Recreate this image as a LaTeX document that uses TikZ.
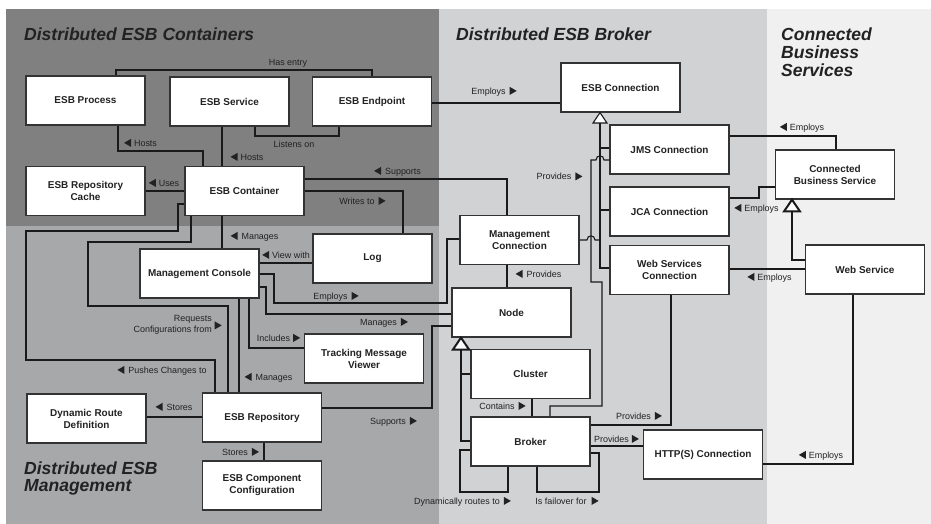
\documentclass[tikz,border=0pt]{standalone}
\usepackage{fontspec}
\setmainfont{Liberation Sans}
\definecolor{zoneCont}{HTML}{808080}
\definecolor{zoneMgmt}{HTML}{A7A8AA}
\definecolor{zoneBrk}{HTML}{D1D2D4}
\definecolor{zoneCbs}{HTML}{F0F0F0}
\definecolor{boxline}{HTML}{333333}
\definecolor{wire}{HTML}{1A1A1A}
\definecolor{ink}{HTML}{222222}
% small filled pointers used inside the relation labels
\newcommand{\arR}{\tikz[x=1bp,y=1bp,baseline=0bp]\fill[ink] (0,-0.6)--(0,7.4)--(7,3.4)--cycle;}
\newcommand{\arL}{\tikz[x=1bp,y=1bp,baseline=0bp]\fill[ink] (7,-0.6)--(7,7.4)--(0,3.4)--cycle;}
\begin{document}
\begin{tikzpicture}[x=1bp,y=-1bp,
  box/.style={draw=boxline, fill=white, line width=1.3bp, minimum width=119bp,
    minimum height=49bp, inner sep=2bp, align=center, text=ink,
    font=\bfseries\fontsize{10}{12}\selectfont},
  lab/.style={font=\fontsize{9}{10.5}\selectfont, text=ink, inner sep=0pt,
    text height=6.6bp, text depth=0pt},
  heading/.style={font=\bfseries\itshape\fontsize{17.6}{18}\selectfont, text=ink,
    inner sep=0pt, anchor=base west},
  cn/.style={draw=wire, line width=1.1bp},
  genline/.style={draw=wire, line width=2.2bp},
  hollow/.style={draw=wire, fill=white, line width=1.1bp, line join=miter},
  hollowthick/.style={draw=wire, fill=white, line width=2bp, line join=miter}]
\useasboundingbox (0,0) rectangle (931,524);
% background zones
\fill[white] (0,0) rectangle (931,524);
\fill[zoneCont] (6,9) rectangle (439,226);
\fill[zoneMgmt] (6,226) rectangle (439,524);
\fill[zoneBrk] (439,9) rectangle (767,524);
\fill[zoneCbs] (767,9) rectangle (931,524);
% zone titles
\node[heading] (hdCont) at (24,41) {Distributed ESB Containers};
\node[heading] (hdBrk) at (456,41) {Distributed ESB Broker};
\node[heading] (hdCbsA) at (781,41) {Connected};
\node[heading] (hdCbsB) at (781,59) {Business};
\node[heading] (hdCbsC) at (781,77) {Services};
\node[heading] (hdMgmtA) at (24,474) {Distributed ESB};
\node[heading] (hdMgmtB) at (24,491) {Management};
% components
\node[box] (proc) at (85.5,100.5) {ESB Process};
\node[box] (svc) at (229.5,101.5) {ESB Service};
\node[box] (endp) at (372,101.5) {ESB Endpoint};
\node[box] (conn) at (620.5,87.5) {ESB Connection};
\node[box] (jms) at (669.5,149.5) {JMS Connection};
\node[box] (cbs) at (835,174.5) {Connected\\Business Service};
\node[box] (jca) at (669.5,211.5) {JCA Connection};
\node[box] (wsc) at (669.5,270) {Web Services\\Connection};
\node[box] (ws) at (865,269.5) {Web Service};
\node[box] (cache) at (85.5,191) {ESB Repository\\Cache};
\node[box] (cont) at (244.5,191) {ESB Container};
\node[box] (mcon) at (199.5,273.5) {Management Console};
\node[box] (log) at (372.5,258.5) {Log};
\node[box] (mconn) at (519.5,240) {Management\\Connection};
\node[box] (node) at (511.5,312.5) {Node};
\node[box] (tmv) at (364,358.5) {Tracking Message\\Viewer};
\node[box] (cluster) at (530.5,374) {Cluster};
\node[box] (broker) at (530.5,441.5) {Broker};
\node[box] (http) at (703,454.5) {HTTP(S) Connection};
\node[box] (drd) at (86.5,418.5) {Dynamic Route\\Definition};
\node[box] (repo) at (262,417.5) {ESB Repository};
\node[box] (comp) at (262,485.5) {ESB Component\\Configuration};
% container relations
\draw[cn] (116,0 |- proc.north) -- (116,70) -- (372,70) -- (372,0 |- endp.north);
\node[lab] (lHas) at (288,62) {Has entry};
\draw[cn] (255,0 |- svc.south) -- (255,136) -- (339,136) -- (339,0 |- endp.south);
\node[lab] (lListen) at (294,144) {Listens on};
\draw[cn] (118,0 |- proc.south) -- (118,151) -- (203,151) -- (203,0 |- cont.north);
\node[lab] (lHostsA) at (140.5,143) {\arL\hspace{3bp}Hosts};
\draw[cn] (222,0 |- svc.south) -- (222,0 |- cont.north);
\node[lab] (lHostsB) at (247,157) {\arL\hspace{3bp}Hosts};
\draw[cn] (cont.west) -- (cont.west -| cache.east);
\node[lab] (lUses) at (164,183) {\arL\hspace{3bp}Uses};
\draw[cn] (endp.east |- 0,103) -- (conn.west |- 0,103);
\node[lab] (lEmpA) at (494,91) {Employs\hspace{4bp}\arR};
\draw[cn] (cont.east |- 0,179) -- (507,179) -- (507,0 |- mconn.north);
\node[lab] (lSupA) at (397.5,171) {\arL\hspace{4bp}Supports};
\draw[cn] (cont.east |- 0,191) -- (403,191) -- (403,0 |- log.north);
\node[lab] (lWrites) at (362.5,201) {Writes to\hspace{4bp}\arR};
% management relations
\draw[cn] (cont.west |- 0,204) -- (178,204) -- (178,231) -- (26,231) -- (26,360)
  -- (215,360) -- (215,0 |- repo.north);
\node[lab] (lPush) at (162,370) {\arL\hspace{4bp}Pushes Changes to};
\draw[cn] (191,0 |- cont.south) -- (191,242) -- (88,242) -- (88,306) -- (228,306)
  -- (228,0 |- repo.north);
\node[lab, anchor=base east, text height=, text depth=] (lReqA) at (212,322) {Requests};
\node[lab, anchor=base east, text height=, text depth=] (lReqB) at (212,333) {Configurations from};
\node[lab, anchor=west] (lReqT) at (214.5,325.5) {\arR};
\draw[cn] (222,0 |- cont.south) -- (222,0 |- mcon.north);
\node[lab] (lManA) at (254.5,236) {\arL\hspace{4bp}Manages};
\draw[cn] (mcon.east |- 0,263) -- (log.west |- 0,263);
\node[lab] (lView) at (286,255) {\arL\hspace{3bp}View with};
\draw[cn] (mcon.east |- 0,274) -- (274,274) -- (274,303) -- (447,303) -- (447,239)
  -- (mconn.west |- 0,239);
\node[lab] (lEmpB) at (336,296) {Employs\hspace{4bp}\arR};
\draw[cn] (mcon.east |- 0,287) -- (266,287) -- (266,314) -- (node.west |- 0,314);
\node[lab] (lManB) at (384,322) {Manages\hspace{4bp}\arR};
\draw[cn] (239,0 |- mcon.south) -- (239,0 |- repo.north);
\node[lab] (lManC) at (268.5,377) {\arL\hspace{4bp}Manages};
\draw[cn] (249,0 |- mcon.south) -- (249,348) -- (tmv.west |- 0,348);
\node[lab] (lIncl) at (278.5,338) {Includes\hspace{3bp}\arR};
\draw[cn] (repo.east |- 0,408) -- (432,408) -- (432,326) -- (node.west |- 0,326);
\node[lab] (lSupB) at (393.5,421) {Supports\hspace{4bp}\arR};
\draw[cn] (repo.west |- 0,417) -- (drd.east |- 0,417);
\node[lab] (lStoA) at (174,407) {\arL\hspace{4bp}Stores};
\draw[cn] (264,0 |- repo.south) -- (264,0 |- comp.north);
\node[lab] (lStoB) at (240.5,452) {Stores\hspace{4bp}\arR};
% broker relations
\draw[cn] (507,0 |- mconn.south) -- (507,0 |- node.north);
\node[lab] (lProvA) at (538.5,274) {\arL\hspace{4bp}Provides};
\draw[genline] (461,349) -- (461,441) -- (broker.west |- 0,441);
\draw[genline] (461,374) -- (cluster.west |- 0,374);
\draw[hollowthick] (461,0 |- node.south) -- (469,349.5) -- (453,349.5) -- cycle;
\draw[cn] (532,0 |- cluster.south) -- (532,0 |- broker.north);
\node[lab] (lCont) at (502.5,406) {Contains\hspace{4bp}\arR};
\draw[cn] (broker.west |- 0,450) -- (460,450) -- (460,492) -- (508,492) -- (508,0 |- broker.south);
\node[lab] (lDyn) at (462.5,501) {Dynamically routes to\hspace{4bp}\arR};
\draw[cn] (537,0 |- broker.south) -- (537,492) -- (599,492) -- (599,453) -- (broker.east |- 0,453);
\node[lab] (lFail) at (567,501) {Is failover for\hspace{5bp}\arR};
% connection hierarchy
\draw[cn] (600,123) -- (600,268) -- (wsc.west |- 0,268);
\draw[cn] (600,148) -- (jms.west |- 0,148);
\draw[cn] (600,210) -- (jca.west |- 0,210);
\draw[hollow] (600,0 |- conn.south) -- (607,123) -- (593,123) -- cycle;
\draw[cn] (550,0 |- broker.north) -- (550,406) -- (602,406) -- (602,282) -- (591,282)
  -- (591,160) -- (596,160) .. controls (596,154.5) and (604,154.5) .. (604,160)
  -- (jms.west |- 0,160);
\node[lab] (lProvB) at (559.5,176.5) {Provides\hspace{4bp}\arR};
\draw[cn] (mconn.east |- 0,240) -- (587,240) .. controls (587,234.5) and (595,234.5) .. (595,240)
  -- (600,240);
\draw[cn] (broker.east |- 0,425) -- (671,425) -- (671,0 |- wsc.south);
\node[lab] (lProvC) at (639,416) {Provides\hspace{4bp}\arR};
\draw[cn] (broker.east |- 0,446) -- (http.west |- 0,446);
\node[lab] (lProvD) at (616.5,439) {Provides\hspace{3bp}\arR};
% business service relations
\draw[cn] (jms.east |- 0,136) -- (836,136) -- (836,0 |- cbs.north);
\node[lab] (lEmpC) at (802,127) {\arL\hspace{3bp}Employs};
\draw[cn] (jca.east |- 0,198) -- (759,198) -- (759,187) -- (cbs.west |- 0,187);
\node[lab] (lEmpD) at (756.5,208) {\arL\hspace{3bp}Employs};
\draw[genline] (792,211) -- (792,260) -- (ws.west |- 0,260);
\draw[hollowthick] (792,0 |- cbs.south) -- (800,211.5) -- (784,211.5) -- cycle;
\draw[cn] (ws.west |- 0,269) -- (wsc.east |- 0,269);
\node[lab] (lEmpE) at (769.5,277) {\arL\hspace{3bp}Employs};
\draw[cn] (853,0 |- ws.south) -- (853,464) -- (http.east |- 0,464);
\node[lab] (lEmpF) at (821,455) {\arL\hspace{3bp}Employs};
\end{tikzpicture}
\end{document}
